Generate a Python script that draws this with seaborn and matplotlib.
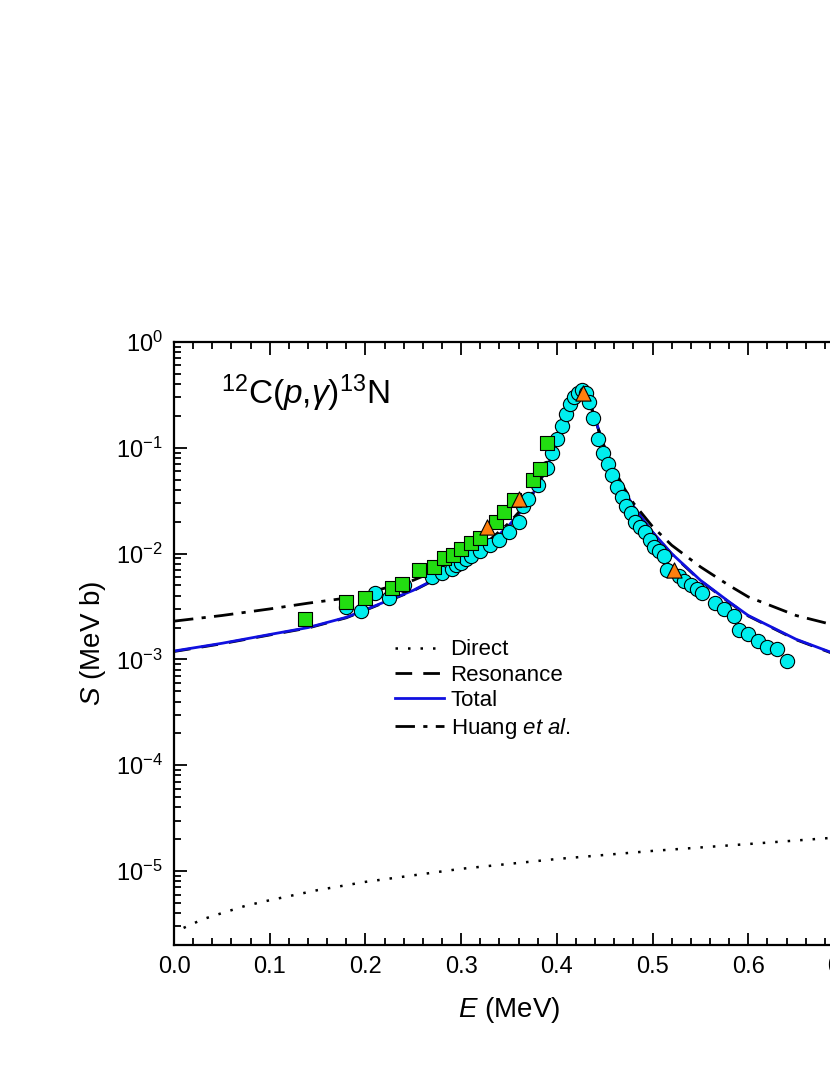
import numpy as np
import pandas as pd
import seaborn as sns
import matplotlib
matplotlib.use("Agg")
import matplotlib.pyplot as plt
from matplotlib.ticker import LogLocator, MultipleLocator, NullFormatter

# Curves
E_curve = [0.0, 0.05, 0.1, 0.14, 0.18, 0.2, 0.25, 0.28, 0.3, 0.32, 0.33, 0.35, 0.36, 0.37, 0.38, 0.39, 0.40, 0.405, 0.41, 0.415, 0.42, 0.425, 0.43, 0.435, 0.44, 0.445, 0.45, 0.46, 0.47, 0.48, 0.5, 0.52, 0.55, 0.58, 0.6, 0.65, 0.7]
S_total = [1.2e-3, 1.42e-3, 1.72e-3, 2.0e-3, 2.5e-3, 2.95e-3, 4.5e-3, 6.2e-3, 8.0e-3, 1.05e-2, 1.25e-2, 1.85e-2, 2.35e-2, 3.1e-2, 4.4e-2, 6.7e-2, 1.1e-1, 1.45e-1, 1.95e-1, 2.6e-1, 3.25e-1, 3.5e-1, 3.2e-1, 2.55e-1, 1.9e-1, 1.35e-1, 1.0e-1, 6.0e-2, 4.0e-2, 2.8e-2, 1.6e-2, 1.0e-2, 5.6e-3, 3.5e-3, 2.6e-3, 1.55e-3, 1.05e-3]
S_resonance = [v * 0.99 for v in S_total]
S_huang = [2.3e-3, 2.6e-3, 3.0e-3, 3.4e-3, 3.8e-3, 4.2e-3, 5.6e-3, 7.3e-3, 9.0e-3, 1.15e-2, 1.35e-2, 1.95e-2, 2.45e-2, 3.2e-2, 4.5e-2, 6.8e-2, 1.1e-1, 1.45e-1, 1.95e-1, 2.6e-1, 3.25e-1, 3.5e-1, 3.2e-1, 2.55e-1, 1.9e-1, 1.35e-1, 1.0e-1, 6.2e-2, 4.2e-2, 3.0e-2, 1.8e-2, 1.2e-2, 7.5e-3, 5.0e-3, 3.9e-3, 2.6e-3, 2.0e-3]
E_direct = [0.01, 0.03, 0.05, 0.075, 0.1, 0.15, 0.2, 0.3, 0.4, 0.5, 0.6, 0.7]
S_direct = [2.9e-6, 3.5e-6, 4.0e-6, 4.7e-6, 5.3e-6, 6.6e-6, 7.9e-6, 1.05e-5, 1.3e-5, 1.55e-5, 1.8e-5, 2.1e-5]

# Data points
E_sq = [0.137, 0.18, 0.20, 0.228, 0.238, 0.256, 0.272, 0.282, 0.292, 0.30, 0.31, 0.32, 0.336, 0.345, 0.355, 0.375, 0.382, 0.39]
S_sq = [2.4e-3, 3.5e-3, 3.8e-3, 4.7e-3, 5.2e-3, 7e-3, 7.5e-3, 9e-3, 9.8e-3, 1.1e-2, 1.25e-2, 1.4e-2, 2e-2, 2.5e-2, 3.2e-2, 5e-2, 6.3e-2, 1.1e-1]
E_tri = [0.327, 0.36, 0.427, 0.522, 0.70]
S_tri = [1.8e-2, 3.3e-2, 0.33, 7e-3, 7e-4]
E_circ = [0.18, 0.195, 0.21, 0.225, 0.24, 0.27, 0.28, 0.29, 0.295, 0.30, 0.305, 0.31, 0.32, 0.33, 0.34, 0.35, 0.36, 0.365, 0.37, 0.38, 0.39, 0.395, 0.40, 0.405, 0.41, 0.414, 0.418, 0.422, 0.426, 0.43, 0.434, 0.438, 0.443, 0.448, 0.453, 0.458, 0.463, 0.468, 0.472, 0.477, 0.482, 0.487, 0.492, 0.497, 0.502, 0.507, 0.512, 0.515, 0.528, 0.533, 0.54, 0.546, 0.552, 0.565, 0.575, 0.585, 0.59, 0.60, 0.61, 0.62, 0.63, 0.64]
S_circ = [3.1e-3, 2.9e-3, 4.2e-3, 3.8e-3, 5.1e-3, 6e-3, 6.5e-3, 7.2e-3, 7.8e-3, 8.2e-3, 8.8e-3, 9.5e-3, 1.05e-2, 1.2e-2, 1.35e-2, 1.6e-2, 2e-2, 2.8e-2, 3.3e-2, 4.5e-2, 6.5e-2, 9e-2, 1.2e-1, 1.6e-1, 2.1e-1, 2.6e-1, 3.0e-1, 3.3e-1, 3.5e-1, 3.3e-1, 2.7e-1, 1.9e-1, 1.2e-1, 9e-2, 7e-2, 5.5e-2, 4.3e-2, 3.4e-2, 2.8e-2, 2.4e-2, 2e-2, 1.8e-2, 1.6e-2, 1.35e-2, 1.15e-2, 1.05e-2, 9.5e-3, 7e-3, 6.2e-3, 5.5e-3, 5e-3, 4.6e-3, 4.2e-3, 3.4e-3, 3.0e-3, 2.6e-3, 1.9e-3, 1.75e-3, 1.5e-3, 1.3e-3, 1.25e-3, 9.7e-4]

plt.rcParams["font.family"] = "Liberation Sans"
plt.rcParams["mathtext.fontset"] = "custom"
plt.rcParams["mathtext.rm"] = "Liberation Sans"
plt.rcParams["mathtext.it"] = "Liberation Sans:italic"

fig = plt.figure(figsize=(8.3, 10.75), dpi=100)
ax = fig.add_axes([174/830, 130/1075, 670/830, 603/1075])

sns.lineplot(x=E_direct, y=S_direct, ax=ax, color="black", lw=1.8, linestyle=(0, (1, 4)), label="Direct")
sns.lineplot(x=E_curve, y=S_resonance, ax=ax, color="black", lw=2.0, linestyle=(0, (6, 4)), label="Resonance")
sns.lineplot(x=E_curve, y=S_total, ax=ax, color="#1010e0", lw=2.0, label="Total")
sns.lineplot(x=E_curve, y=S_huang, ax=ax, color="black", lw=2.0, linestyle=(0, (7, 3, 1.5, 3)), label="Huang $\\it{et\\ al.}$")

sns.scatterplot(x=E_circ, y=S_circ, ax=ax, marker="o", s=105, color="#00eeee", edgecolor="black", linewidth=0.8, zorder=3, legend=False)
sns.scatterplot(x=E_sq, y=S_sq, ax=ax, marker="s", s=90, color="#22dd11", edgecolor="black", linewidth=0.8, zorder=4, legend=False)
sns.scatterplot(x=E_tri, y=S_tri, ax=ax, marker="^", s=120, color="#ff7f0e", edgecolor="black", linewidth=0.8, zorder=5, legend=False)

ax.set_yscale("log")
ax.set_xlim(0, 0.7)
ax.set_ylim(2e-6, 1)
ax.xaxis.set_major_locator(MultipleLocator(0.1))
ax.xaxis.set_minor_locator(MultipleLocator(0.02))
ax.xaxis.set_major_formatter(matplotlib.ticker.FormatStrFormatter("%.1f"))
ax.yaxis.set_major_locator(LogLocator(base=10, numticks=20))
ax.yaxis.set_minor_locator(LogLocator(base=10, subs=np.arange(2, 10), numticks=20))
ax.yaxis.set_minor_formatter(NullFormatter())
ax.tick_params(which="both", direction="in", top=True, right=True, labelsize=17, width=1.3)
ax.tick_params(which="major", length=9, pad=8)
ax.tick_params(which="minor", length=5)
for s in ax.spines.values():
    s.set_linewidth(1.6)

ax.set_xlabel("$\\it{E}$ (MeV)", fontsize=20, labelpad=12)
ax.set_ylabel("$\\it{S}$ (MeV b)", fontsize=20, labelpad=6)
ax.text(0.07, 0.915, "$^{12}$C($\\it{p}$,$\\gamma$)$^{13}$N", transform=ax.transAxes, fontsize=24, va="center")

ax.legend(loc="upper left", bbox_to_anchor=(0.3, 0.54), frameon=False, fontsize=16,
          handlelength=2.2, handletextpad=0.3, labelspacing=0.2)

fig.savefig("out.png", dpi=100)
